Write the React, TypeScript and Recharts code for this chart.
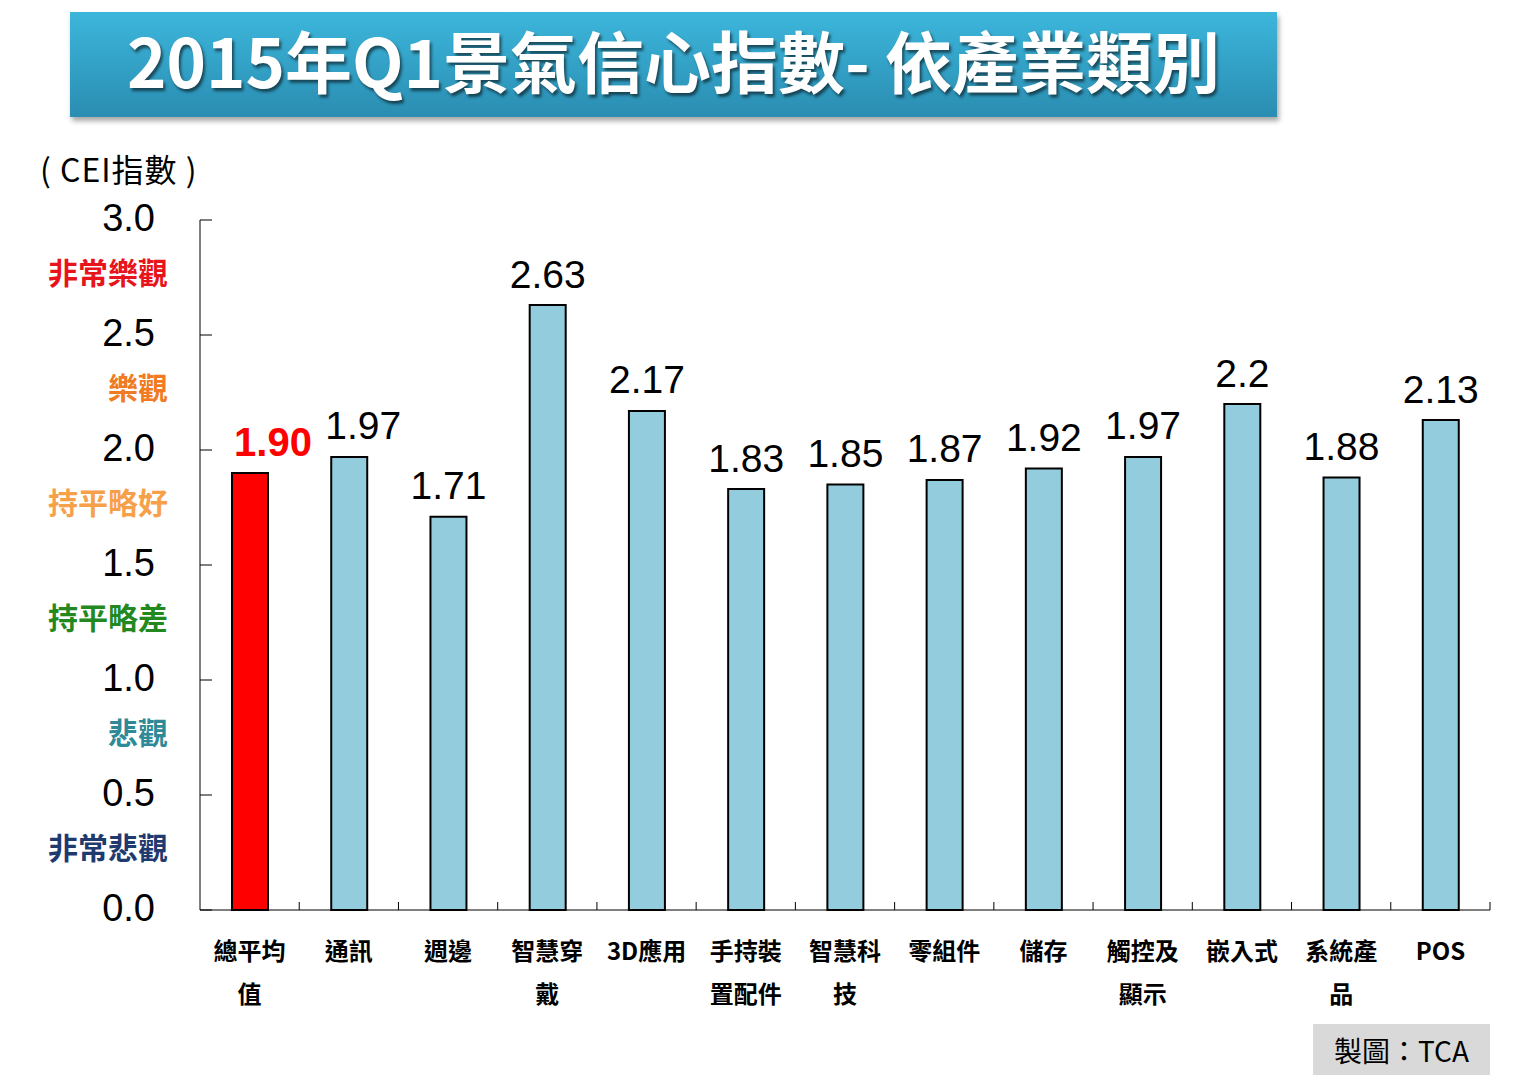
import { BarChart, Bar, XAxis, YAxis, Cell, LabelList } from 'recharts';

const categories = ['總平均值', '通訊', '週邊', '智慧穿戴', '3D應用', '手持裝置配件', '智慧科技', '零組件', '儲存', '觸控及顯示', '嵌入式', '系統產品', 'POS'];
const categoryLines = [
  ['總平均', '值'],
  ['通訊'],
  ['週邊'],
  ['智慧穿', '戴'],
  ['3D應用'],
  ['手持裝', '置配件'],
  ['智慧科', '技'],
  ['零組件'],
  ['儲存'],
  ['觸控及', '顯示'],
  ['嵌入式'],
  ['系統產', '品'],
  ['POS'],
];
const ceiValues = [1.9, 1.97, 1.71, 2.63, 2.17, 1.83, 1.85, 1.87, 1.92, 1.97, 2.2, 1.88, 2.13];
const valueLabels = ['1.90', '1.97', '1.71', '2.63', '2.17', '1.83', '1.85', '1.87', '1.92', '1.97', '2.2', '1.88', '2.13'];

const yTicks = [0, 0.25, 0.5, 0.75, 1, 1.25, 1.5, 1.75, 2, 2.25, 2.5, 2.75, 3];
const sentimentAt: Record<string, string> = {
  '2.75': '非常樂觀',
  '2.25': '樂觀',
  '1.75': '持平略好',
  '1.25': '持平略差',
  '0.75': '悲觀',
  '0.25': '非常悲觀',
};
const sentimentColor: Record<string, string> = {
  '2.75': '#E8141B',
  '2.25': '#F07B22',
  '1.75': '#F7A04A',
  '1.25': '#23891F',
  '0.75': '#2E8A96',
  '0.25': '#1F3A6E',
};

const data = categories.map((name, i) => ({ name, value: ceiValues[i], label: valueLabels[i] }));

const W = 1530;
const H = 1083;
const PLOT_LEFT = 200;
const PLOT_RIGHT = 1490;
const BAND = (PLOT_RIGHT - PLOT_LEFT) / categories.length;

const latin = '"Liberation Sans", Arial, sans-serif';
const cjk = '"Noto Sans CJK TC", "Noto Sans", sans-serif';

function YTick(props: any) {
  const { y, payload } = props;
  const v = payload.value as number;
  const key = String(v);
  if (sentimentAt[key]) {
    return (
      <text x={168} y={y - 7} textAnchor="end" dominantBaseline="central" fontFamily={cjk} fontWeight="bold" fontSize={30} fill={sentimentColor[key]}>
        {sentimentAt[key]}
      </text>
    );
  }
  return (
    <g>
      <line x1={PLOT_LEFT} x2={PLOT_LEFT + 12} y1={y} y2={y} stroke="#000" strokeWidth={1} />
      <text x={155} y={y - 2} textAnchor="end" dominantBaseline="central" fontFamily={latin} fontSize={38} fill="#000">
        {v.toFixed(1)}
      </text>
    </g>
  );
}

function XTick(props: any) {
  const { x, y, index } = props;
  const lines = categoryLines[index] || [];
  const bx = x + BAND / 2;
  return (
    <g>
      <line x1={bx} x2={bx} y1={910} y2={902} stroke="#000" strokeWidth={1} />
      {lines.map((ln, i) => (
        <text key={i} x={x} y={y + 31 + i * 43} textAnchor="middle" dominantBaseline="central" fontFamily={cjk} fontWeight="bold" fontSize={24} fill="#000">
          {ln}
        </text>
      ))}
    </g>
  );
}

function ValueLabel(props: any) {
  const { x, y, width, index } = props;
  const first = index === 0;
  const dx = index === 0 ? 23 : index === 1 ? 14 : 0;
  return (
    <text
      x={x + width / 2 + dx}
      y={y - 31}
      textAnchor="middle"
      dominantBaseline="central"
      fontFamily={latin}
      fontSize={first ? 40 : 39}
      fontWeight={first ? 'bold' : 'normal'}
      fill={first ? '#FF0000' : '#000'}
    >
      {valueLabels[index]}
    </text>
  );
}

export default function App() {
  return (
    <div style={{ position: 'absolute', left: 0, top: 0, width: W, height: H, background: '#fff', overflow: 'hidden' }}>
      <div
        style={{
          position: 'absolute',
          left: 70,
          top: 12,
          width: 1207,
          height: 105,
          background: 'linear-gradient(#3db6dc, #2a8db1)',
          boxShadow: '2px 4px 5px rgba(0,0,0,0.35)',
          display: 'flex',
          alignItems: 'center',
          justifyContent: 'center',
          color: '#fff',
          fontFamily: cjk,
          fontWeight: 'bold',
          fontSize: 67,
          paddingBottom: 12,
          boxSizing: 'border-box',
          textShadow: '2px 3px 3px rgba(0,0,0,0.55)',
          whiteSpace: 'nowrap',
        }}
      >
        2015年Q1景氣信心指數- 依產業類別
      </div>
      <div style={{ position: 'absolute', left: 40, top: 148, fontFamily: cjk, fontSize: 32, color: '#000', whiteSpace: 'nowrap', lineHeight: '40px', letterSpacing: 1 }}>
        ( CEI指數 )
      </div>
      <div style={{ position: 'absolute', left: 0, top: 0 }}>
        <BarChart width={W} height={H} data={data} margin={{ top: 220, right: 40, bottom: 53, left: 50 }}>
          <YAxis
            type="number"
            domain={[0, 3]}
            ticks={yTicks}
            interval={0}
            width={150}
            axisLine={{ stroke: '#000', strokeWidth: 1 }}
            tickLine={false}
            tick={<YTick />}
          />
          <XAxis
            dataKey="name"
            height={120}
            interval={0}
            axisLine={{ stroke: '#000', strokeWidth: 1 }}
            tickLine={false}
            tick={<XTick />}
          />
          <Bar dataKey="value" barSize={36} stroke="#000" strokeWidth={2} isAnimationActive={false}>
            {data.map((_, i) => (
              <Cell key={`cell-${i}`} fill={i === 0 ? '#FF0000' : '#93CDDD'} />
            ))}
            <LabelList dataKey="value" content={<ValueLabel />} />
          </Bar>
        </BarChart>
      </div>
      <div
        style={{
          position: 'absolute',
          left: 1313,
          top: 1024,
          width: 177,
          height: 51,
          background: '#D9D9D9',
          display: 'flex',
          alignItems: 'center',
          justifyContent: 'center',
          fontFamily: cjk,
          fontSize: 28,
          color: '#000',
          whiteSpace: 'nowrap',
        }}
      >
        製圖：TCA
      </div>
    </div>
  );
}
